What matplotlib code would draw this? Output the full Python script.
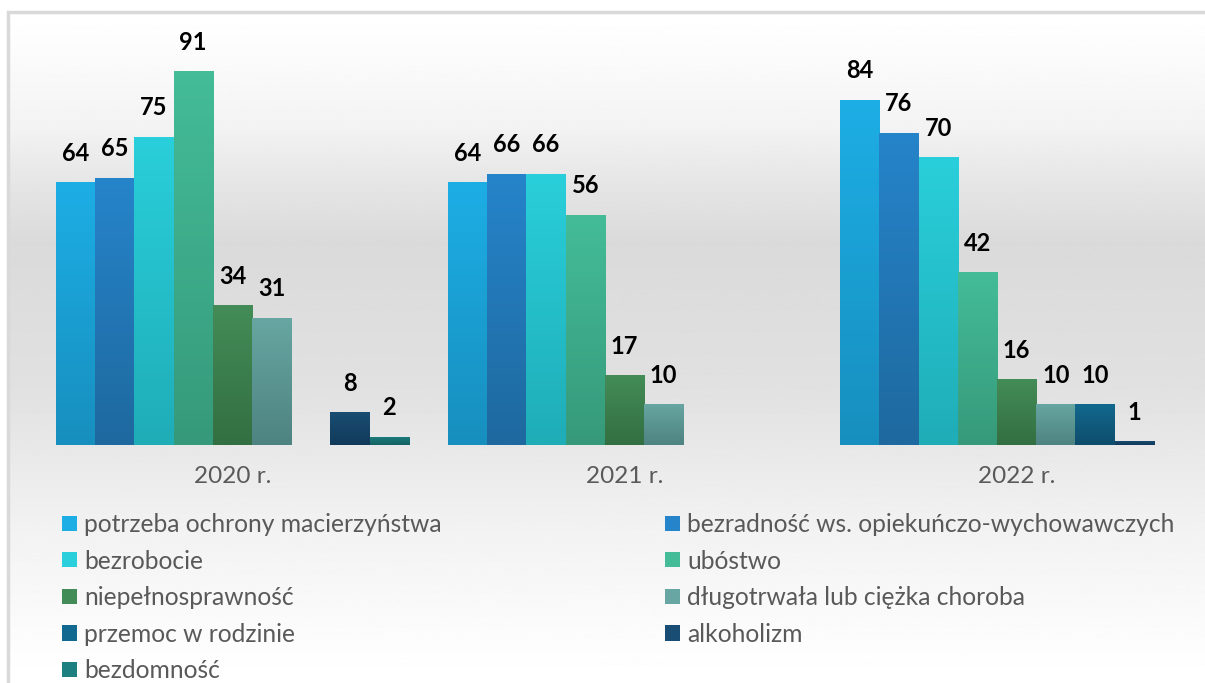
import numpy as np
import matplotlib
matplotlib.use("Agg")
import matplotlib.pyplot as plt
from matplotlib.colors import LinearSegmentedColormap
from matplotlib.patches import Rectangle, Patch

plt.rcParams['font.family'] = ['Lato', 'DejaVu Sans']

years = ["2020 r.", "2021 r.", "2022 r."]
series = [
    "potrzeba ochrony macierzyństwa",
    "bezradność ws. opiekuńczo-wychowawczych",
    "bezrobocie",
    "ubóstwo",
    "niepełnosprawność",
    "długotrwała lub ciężka choroba",
    "przemoc w rodzinie",
    "alkoholizm",
    "bezdomność",
]
values = [
    [64, 64, 84],
    [65, 66, 76],
    [75, 66, 70],
    [91, 56, 42],
    [34, 17, 16],
    [31, 10, 10],
    [0, 0, 10],
    [8, 0, 1],
    [2, 0, 0],
]
# (top, bottom) of each bar's vertical gradient
colors = [
    ("#1DAEE5", "#178FBE"),
    ("#2684CA", "#1E699F"),
    ("#29CFDA", "#1FADB8"),
    ("#44BC98", "#369A7A"),
    ("#438C57", "#336F42"),
    ("#67A6A2", "#4E8381"),
    ("#12698F", "#0E4D6C"),
    ("#1A4D73", "#113A5A"),
    ("#1D7F7F", "#146161"),
]

W, H = 1205, 683
fig = plt.figure(figsize=(W / 100, H / 100), dpi=100)

# chart-area background with soft vertical gradient
bg = fig.add_axes([8 / W, 0, 1 - 8 / W, (H - 12) / H], zorder=0)
ys = np.array([0, 40, 150, 300, 440, 500, 560, 640, 671]) / 671
gs = np.array([1.0, 0.99, 0.95, 0.88, 0.855, 0.90, 0.955, 0.99, 1.0])
grad = np.interp(np.linspace(0, 1, 400), ys, gs)[:, None]
bg.imshow(grad, cmap="gray", vmin=0, vmax=1, aspect="auto", extent=[0, 1, 0, 1])
bg.set_xlim(0, 1)
bg.set_ylim(1, 0)
bg.axis("off")
fig.add_artist(Rectangle((8 / W, -0.01), 1.0, (H - 12) / H + 0.01,
                         transform=fig.transFigure, fill=False,
                         edgecolor="#D9D9D9", linewidth=2.5, zorder=1))

ax = fig.add_axes([56 / W, 1 - 445 / H, 1137 / W, 411 / H], zorder=2)
ax.patch.set_alpha(0)

n = len(series)
bw = 0.1
x = np.arange(len(years))
ramp = np.linspace(0, 1, 100)[:, None]
for i, (name, vals, (ctop, cbot)) in enumerate(zip(series, values, colors)):
    pos = x - 0.45 + bw * (i + 0.5)
    bars = ax.bar(pos, vals, width=bw, color=ctop, linewidth=0, label=name, zorder=2)
    cmap = LinearSegmentedColormap.from_list(name, [ctop, cbot])
    for b, v in zip(bars, vals):
        if v <= 0:
            continue
        im = ax.imshow(ramp, cmap=cmap, aspect="auto", zorder=3,
                       extent=[b.get_x(), b.get_x() + b.get_width(), 0, v])
        im.set_clip_path(b)
        ax.annotate(str(v), (b.get_x() + b.get_width() / 2, v),
                    xytext=(0, 12.5), textcoords="offset points",
                    ha="center", va="bottom", fontsize=17, fontweight="bold",
                    color="black", zorder=4)

ax.set_xlim(-0.45, 2.45)
ax.set_ylim(0, 100)
ax.set_xticks(x)
ax.set_xticklabels(years, fontsize=17.5, color="#595959")
ax.tick_params(axis="x", length=0, pad=15)
ax.set_yticks([])
for s in ax.spines.values():
    s.set_visible(False)

handles = [Patch(facecolor=c[0], edgecolor="none") for c in colors]
common = dict(frameon=False, fontsize=17.7, handlelength=0.61, handleheight=0.58,
              handletextpad=0.28, labelspacing=0.55, labelcolor="#595959",
              loc="upper left", borderpad=0, borderaxespad=0)
fig.legend([handles[i] for i in range(0, n, 2)], [series[i] for i in range(0, n, 2)],
           bbox_to_anchor=(62 / W, 1 - 513 / H), **common)
fig.legend([handles[i] for i in range(1, n, 2)], [series[i] for i in range(1, n, 2)],
           bbox_to_anchor=(665 / W, 1 - 513 / H), **common)

fig.savefig("out.png", dpi=100)
